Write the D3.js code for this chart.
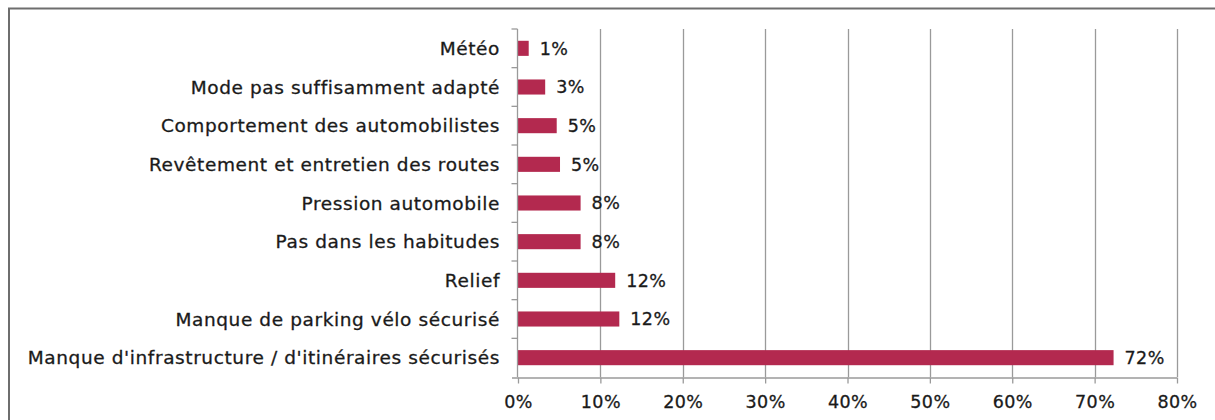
<!DOCTYPE html>
<html>
<head>
<meta charset="utf-8">
<script src="https://cdn.jsdelivr.net/npm/d3@7"></script>
<style>
html,body{margin:0;padding:0;background:#fff;}
svg{display:block;}
text{font-family:"DejaVu Sans",sans-serif;fill:#1a1a1a;stroke:#1a1a1a;stroke-width:0.3px;}
</style>
</head>
<body>
<svg id="chart" width="1215" height="420"></svg>
<script>
const categories = [
  "Météo",
  "Mode pas suffisamment adapté",
  "Comportement des automobilistes",
  "Revêtement et entretien des routes",
  "Pression automobile",
  "Pas dans les habitudes",
  "Relief",
  "Manque de parking vélo sécurisé",
  "Manque d'infrastructure / d'itinéraires sécurisés"
];
const values = [1.3, 3.3, 4.7, 5.1, 7.6, 7.6, 11.8, 12.3, 72.3];
const valueLabels = ["1%", "3%", "5%", "5%", "8%", "8%", "12%", "12%", "72%"];
const xTicks = [0, 10, 20, 30, 40, 50, 60, 70, 80];

const svg = d3.select("#chart");
const margin = {left: 518, right: 1177, top: 29, bottom: 377};
const FONT = '"DejaVu Sans",sans-serif';

// outer frame
svg.append("path")
  .attr("d", "M9,420 V8.5 H1215")
  .attr("fill", "none").attr("stroke", "#6e6e6e").attr("stroke-width", 2);

const x = d3.scaleLinear().domain([0, 80]).range([margin.left, margin.right]);
const y = d3.scaleBand().domain(categories).range([margin.top, margin.bottom]).paddingInner(0.61).paddingOuter(0.305);
const yb = d3.scaleBand().domain(categories).range([margin.top, margin.bottom]);

// gridlines
svg.append("g").selectAll("line").data(xTicks.slice(1)).join("line")
  .attr("x1", d => Math.round(x(d)) + 0.5).attr("x2", d => Math.round(x(d)) + 0.5)
  .attr("y1", margin.top).attr("y2", margin.bottom)
  .attr("stroke", "#9a9a9a").attr("stroke-width", 1.3);

// bars
svg.append("g").selectAll("rect").data(categories).join("rect")
  .attr("x", x(0))
  .attr("y", (d) => y(d))
  .attr("width", (d, i) => x(values[i]) - x(0))
  .attr("height", y.bandwidth())
  .attr("fill", "#b3294f");

// x axis
const xAxis = d3.axisBottom(x).tickValues(xTicks).tickFormat(d => d + "%").tickSize(6).tickSizeOuter(0);
const gx = svg.append("g").attr("transform", `translate(0,${margin.bottom + 0.5})`).call(xAxis);
gx.select(".domain").attr("stroke", "#9a9a9a").attr("stroke-width", 1.3)
  .attr("d", `M${margin.left - 6},0.5H${margin.right}`);
gx.selectAll(".tick line").attr("stroke", "#9a9a9a").attr("stroke-width", 1.3);
gx.selectAll(".tick text").attr("font-size", 17.5).attr("dy", "1.2em").attr("fill", "#1a1a1a")
  .attr("letter-spacing", "0.4px")
  .style("font-family", FONT);

// y axis
const gy = svg.append("g").attr("transform", `translate(${margin.left - 0.5},0)`);
gy.append("line").attr("x1", 0).attr("x2", 0).attr("y1", margin.top).attr("y2", margin.bottom)
  .attr("stroke", "#9a9a9a").attr("stroke-width", 1.3);
const boundaries = categories.map(c => yb(c));
gy.selectAll("line.tk").data(boundaries).join("line").attr("class", "tk")
  .attr("x1", -6).attr("x2", 0).attr("y1", d => d).attr("y2", d => d)
  .attr("stroke", "#9a9a9a").attr("stroke-width", 1.3);

// category labels
svg.append("g").selectAll("text").data(categories).join("text")
  .attr("x", 500)
  .attr("y", d => yb(d) + yb.bandwidth() / 2)
  .attr("dy", "0.36em")
  .attr("text-anchor", "end")
  .attr("font-size", 18.5)
  .attr("letter-spacing", "0.6px")
  .text(d => d);

// value labels
svg.append("g").selectAll("text").data(categories).join("text")
  .attr("x", (d, i) => x(values[i]) + 11)
  .attr("y", d => yb(d) + yb.bandwidth() / 2)
  .attr("dy", "0.36em")
  .attr("font-size", 17.5)
  .attr("letter-spacing", "0.4px")
  .text((d, i) => valueLabels[i]);
</script>
</body>
</html>
